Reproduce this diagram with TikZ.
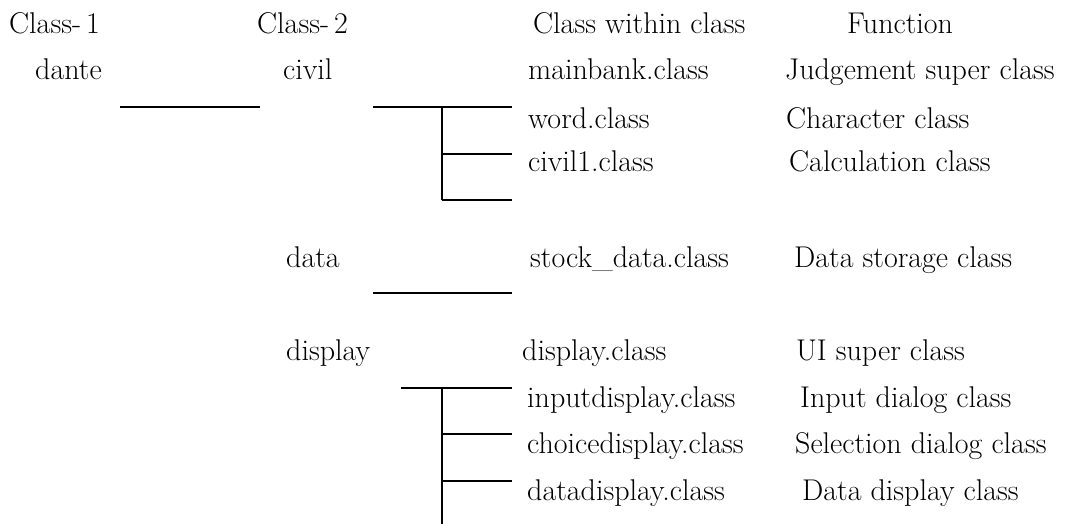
\documentclass[tikz,border=0pt]{standalone}
\usepackage{tikz}
\usetikzlibrary{positioning}

\begin{document}
\begin{tikzpicture}[x=1pt, y=-1pt,
  txt/.style={anchor=base west, inner sep=0pt, font=\fontsize{30}{36}\selectfont},
  tree/.style={line width=2pt}]
  \useasboundingbox (0,0) rectangle (1085,528);
  % column heads
  \node[txt] (hd1) at (9,33) {Class-\,1};
  \node[txt] (hd2) at (257,33) {Class-\,2};
  \node[txt] (hd3) at (533,33) {Class within class};
  \node[txt] (hd4) at (847,33) {Function};
  % packages
  \node[txt] (dante) at (35,79) {dante};
  \node[txt] (civil) at (283,79) {civil};
  \node[txt] (data) at (286,267) {data};
  \node[txt] (display) at (286,360) {display};
  % classes
  \foreach \x/\y/\id/\lab in {528/79/main/mainbank.class, 528/128/word/word.class,
      528/171/calc/civil1.class, 530/267/stock/stock\_data.class,
      522/360/disp/display.class, 527/407/input/inputdisplay.class,
      527/453/choice/choicedisplay.class, 527/500/ddisp/datadisplay.class} {
    \node[txt] (c\id) at (\x,\y) {\lab};
  }
  % functions
  \foreach \x/\y/\id/\lab in {785/79/main/Judgement super class, 786/128/word/Character class,
      789/171/calc/Calculation class, 794/267/stock/Data storage class,
      796/360/disp/UI super class, 800/407/input/Input dialog class,
      795/453/choice/Selection dialog class, 802/500/ddisp/Data display class} {
    \node[txt] (f\id) at (\x,\y) {\lab};
  }
  % dante -> packages
  \coordinate (dt-in) at (120,107);
  \coordinate (dt-out) at (260,107);
  \draw[tree] (dt-in) -- (dt-out);
  % civil
  \coordinate (cv-in) at (373,107);
  \coordinate (cv-top) at (442,107);
  \coordinate (cv-bot) at (442,200);
  \coordinate (cv-end) at (512,107);
  \draw[tree] (cv-in) -- (cv-end);
  \draw[tree] (cv-top) -- (cv-bot);
  \foreach \y in {154,200}
    \draw[tree] (cv-top |- 0,\y) -- (cv-end |- 0,\y);
  % data
  \coordinate (dd-in) at (373,293);
  \coordinate (dd-end) at (512,293);
  \draw[tree] (dd-in) -- (dd-end);
  % display
  \coordinate (ds-in) at (401,388);
  \coordinate (ds-top) at (442,388);
  \coordinate (ds-bot) at (442,524);
  \coordinate (ds-end) at (512,388);
  \draw[tree] (ds-in) -- (ds-end);
  \draw[tree] (ds-top) -- (ds-bot);
  \foreach \y in {434,481}
    \draw[tree] (ds-top |- 0,\y) -- (ds-end |- 0,\y);
\end{tikzpicture}
\end{document}
